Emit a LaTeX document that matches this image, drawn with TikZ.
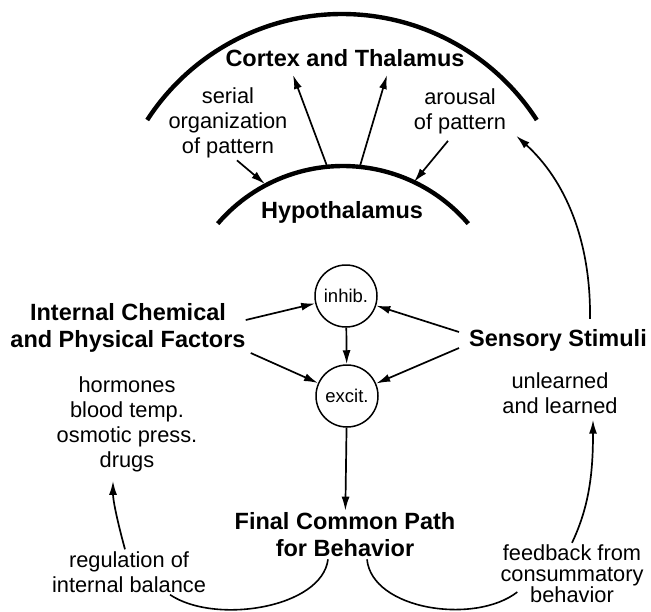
\documentclass[tikz,border=0pt]{standalone}
\usepackage{fontspec}
\setmainfont{Liberation Sans}
\usetikzlibrary{arrows.meta,positioning}

\begin{document}
\begin{tikzpicture}[
    x=1pt, y=-1pt,
    heading/.style={font=\fontsize{23.5}{27}\selectfont\bfseries, align=center, inner sep=2pt},
    note/.style={font=\fontsize{21.8}{25}\selectfont, align=center, inner sep=2pt},
    gate/.style={draw, circle, line width=1.5pt, minimum size=62pt, inner sep=0pt, font=\fontsize{18.5}{20}\selectfont},
    shell/.style={line width=4.4pt},
    arrow/.style={-{Latex[length=14pt,width=8pt]}, line width=1.7pt},
    link/.style={line width=1.6pt}
]
\useasboundingbox (0,0) rectangle (651,611);

    % brain levels
    \draw[shell] (342,246) ++(-147.1:232) arc[start angle=-147.1, end angle=-32.9, radius=232];
    \draw[shell] (343,331) ++(-139.4:165) arc[start angle=-139.4, end angle=-40.6, radius=165];

    \node[heading] (cortex) at (345,58) {Cortex and Thalamus};
    \node[note] (serial) at (228,123) {serial\\organization\\of pattern};
    \node[note] (arousal) at (460,111) {arousal\\of pattern};
    \node[heading] (hypo) at (342,212) {Hypothalamus};

    \coordinate (hyL) at (265,184);
    \coordinate (hyR) at (414,182);
    \coordinate (hyA) at (327,166);
    \coordinate (hyB) at (360,166);
    \coordinate (ctxA) at (293,75);
    \coordinate (ctxB) at (387,75);

    \draw[arrow] (hyA) -- (ctxA);
    \draw[arrow] (hyB) -- (ctxB);
    \draw[arrow] ([xshift=9pt]serial.south) -- (hyL);
    \draw[arrow] ([xshift=-12pt,yshift=-5pt]arousal.south) -- (hyR);

    % gates
    \node[gate] (inhib) at (346,296) {inhib.};
    \node[gate] (excit) at (347,396) {excit.};

    \node[heading] (internal) at (128,328) {Internal Chemical\\and Physical Factors};
    \node[note] (factors) at (127,424) {hormones\\blood temp.\\osmotic press.\\drugs};
    \node[heading] (sensory) at (558,340) {Sensory Stimuli};
    \node[note] (learned) at (560,393) {unlearned\\and learned};
    \node[heading] (final) at (345,535) {Final Common Path\\for Behavior};
    \node[note] (regul) at (129,572) {regulation of\\internal balance};
    \node[note, font=\fontsize{21.8}{21}\selectfont] (feedback) at (572,574) {feedback from\\consummatory\\behavior};

    \draw[arrow] ([xshift=-2pt,yshift=8pt]internal.east) -- (inhib);
    \draw[arrow] ([xshift=3pt,yshift=-25pt]internal.east) -- (excit);
    \draw[arrow] ([xshift=-8pt,yshift=8pt]sensory.west) -- (inhib);
    \draw[arrow] ([xshift=-8pt,yshift=-8pt]sensory.west) -- (excit);
    \draw[arrow] (inhib) -- (excit);
    \draw[arrow] (excit) -- (final);

    % feedback loops
    \draw[arrow] ([xshift=32pt,yshift=8pt]sensory.north) .. controls (591,240) and (565,180) .. ([xshift=8pt]arousal.south east);
    \draw[arrow] (feedback.north) .. controls (590,505) and (593,470) .. ([xshift=33pt,yshift=-4pt]learned.south);
    \draw[link] ([xshift=22pt]final.south) .. controls (372,610) and (475,625) .. ([xshift=19pt,yshift=-18pt]feedback.west);
    \draw[link] ([xshift=-17pt]final.south) .. controls (322,608) and (215,625) .. ([xshift=41pt]regul.south);
    \draw[arrow] ([xshift=-4pt]regul.north) .. controls (117,520) and (113,500) .. ([xshift=-14pt,yshift=-7pt]factors.south);

\end{tikzpicture}
\end{document}
